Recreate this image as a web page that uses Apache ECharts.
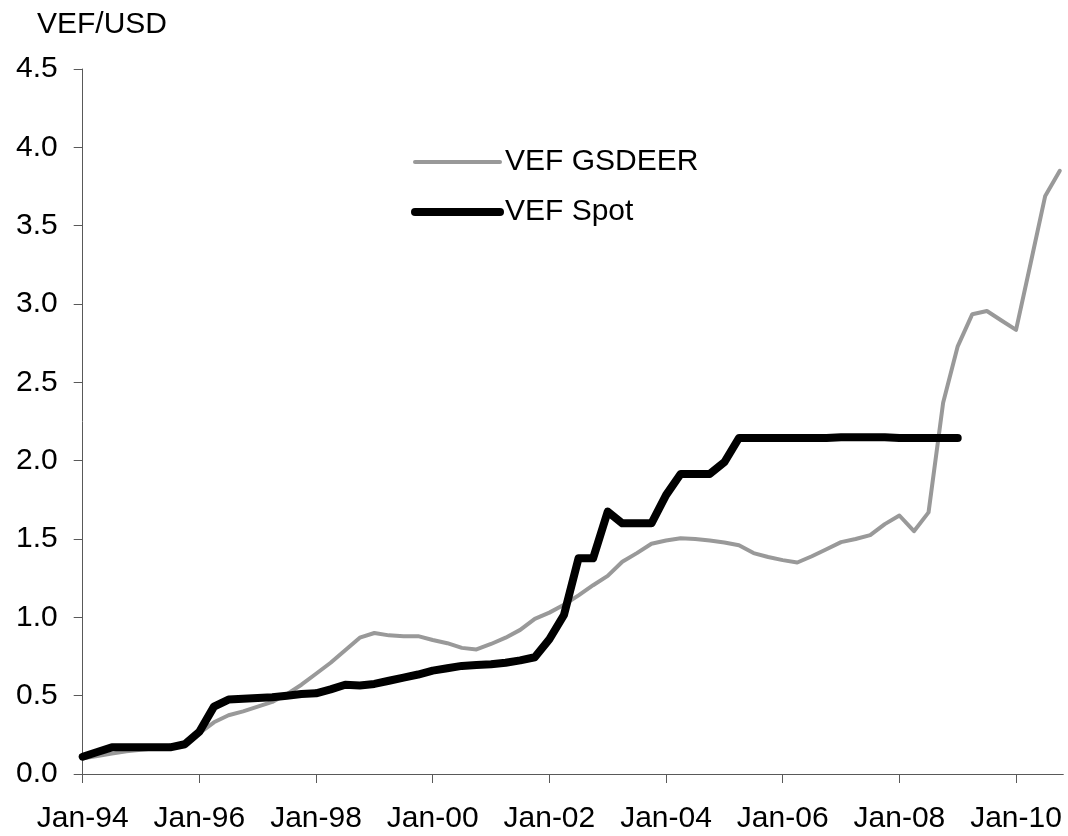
<!DOCTYPE html>
<html>
<head>
<meta charset="utf-8">
<title>VEF/USD</title>
<script src="https://cdn.jsdelivr.net/npm/echarts@6/dist/echarts.min.js"></script>
<style>
  html, body { margin: 0; padding: 0; background: #fff; }
  #chart { width: 1068px; height: 836px; }
</style>
</head>
<body>
<div id="chart"></div>
<script>
// quarterly observations
const quarters = [
  '1994-01', '1994-04', '1994-07', '1994-10',
  '1995-01', '1995-04', '1995-07', '1995-10',
  '1996-01', '1996-04', '1996-07', '1996-10',
  '1997-01', '1997-04', '1997-07', '1997-10',
  '1998-01', '1998-04', '1998-07', '1998-10',
  '1999-01', '1999-04', '1999-07', '1999-10',
  '2000-01', '2000-04', '2000-07', '2000-10',
  '2001-01', '2001-04', '2001-07', '2001-10',
  '2002-01', '2002-04', '2002-07', '2002-10',
  '2003-01', '2003-04', '2003-07', '2003-10',
  '2004-01', '2004-04', '2004-07', '2004-10',
  '2005-01', '2005-04', '2005-07', '2005-10',
  '2006-01', '2006-04', '2006-07', '2006-10',
  '2007-01', '2007-04', '2007-07', '2007-10',
  '2008-01', '2008-04', '2008-07', '2008-10',
  '2009-01', '2009-04', '2009-07', '2009-10',
  '2010-01', '2010-04', '2010-07', '2010-10'
]

const gsdeer = [
  0.10, 0.115, 0.13, 0.145,
  0.155, 0.165, 0.17, 0.19,
  0.26, 0.33, 0.375, 0.40,
  0.43, 0.46, 0.51, 0.57,
  0.64, 0.71, 0.79, 0.87,
  0.90, 0.885, 0.88, 0.88,
  0.855, 0.835, 0.805, 0.795,
  0.83, 0.87, 0.92, 0.99,
  1.03, 1.08, 1.14, 1.205,
  1.265, 1.355, 1.41, 1.47,
  1.49, 1.505, 1.50, 1.49,
  1.478, 1.46, 1.41, 1.385,
  1.365, 1.35, 1.39, 1.435,
  1.48, 1.50, 1.525, 1.595,
  1.65, 1.55, 1.67, 2.37,
  2.73, 2.935, 2.955, 2.895,
  2.835, 3.26, 3.69, 3.85
]

// spot stops at Jan-09
const spot = [
  0.11, 0.14, 0.17, 0.17,
  0.17, 0.17, 0.17, 0.19,
  0.27, 0.43, 0.475, 0.48,
  0.485, 0.49, 0.50, 0.51,
  0.515, 0.54, 0.57, 0.565,
  0.575, 0.595, 0.615, 0.635,
  0.66, 0.675, 0.69, 0.695,
  0.70, 0.71, 0.725, 0.745,
  0.86, 1.015, 1.377, 1.377,
  1.675, 1.60, 1.60, 1.60,
  1.78, 1.915, 1.915, 1.915,
  1.99, 2.145, 2.145, 2.145,
  2.145, 2.145, 2.145, 2.145,
  2.15, 2.15, 2.15, 2.15,
  2.145, 2.145, 2.145, 2.145,
  2.145
]

const xTicks = [1994, 1996, 1998, 2000, 2002, 2004, 2006, 2008, 2010]
const seriesNames = ['VEF GSDEER', 'VEF Spot']

const font = "'Liberation Sans', Arial, sans-serif"
const axisColor = '#595959'

// 'YYYY-MM' -> decimal year for the value axis
const toYear = (s) => {
  const [y, m] = s.split('-').map(Number)
  return y + (m - 1) / 12
}

const chart = echarts.init(document.getElementById('chart'))
chart.setOption({
  animation: false,
  backgroundColor: '#fff',
  textStyle: { fontFamily: font },
  title: {
    text: 'VEF/USD',
    left: 32,
    top: 5,
    textStyle: { fontSize: 30, fontWeight: 'normal', color: '#000', fontFamily: font }
  },
  legend: {
    orient: 'vertical',
    left: 406,
    top: 142,
    itemWidth: 85,
    itemHeight: 30,
    itemGap: 20,
    textStyle: { fontSize: 30, color: '#000', fontFamily: font },
    data: [
      { name: seriesNames[0], lineStyle: { width: 4, cap: 'round' }, itemStyle: { opacity: 0 } },
      { name: seriesNames[1], lineStyle: { width: 8, cap: 'round' }, itemStyle: { opacity: 0 } }
    ]
  },
  grid: {
    left: 82.7,
    right: 4.7,
    top: 69,
    bottom: 62,
    outerBoundsMode: 'none'
  },
  xAxis: {
    type: 'value',
    min: 1994,
    max: 2010.81,
    splitLine: { show: false },
    axisLine: { lineStyle: { color: axisColor, width: 1 } },
    axisTick: { show: true, length: 9, lineStyle: { color: axisColor }, customValues: xTicks },
    axisLabel: {
      customValues: xTicks,
      margin: 30,
      fontSize: 30,
      color: '#000',
      fontFamily: font,
      formatter: function(v) {
        return 'Jan-' + String(Math.round(v)).slice(2)
      }
    }
  },
  yAxis: {
    type: 'value',
    min: 0,
    max: 4.5,
    interval: 0.5,
    splitLine: { show: false },
    axisLine: { show: true, lineStyle: { color: axisColor, width: 1 } },
    axisTick: { show: true, length: 9, lineStyle: { color: axisColor } },
    axisLabel: {
      margin: 25,
      fontSize: 30,
      color: '#000',
      fontFamily: font,
      formatter: v => v.toFixed(1)
    }
  },
  series: [
    {
      name: seriesNames[0],
      type: 'line',
      symbol: 'none',
      color: '#999999',
      lineStyle: { width: 4, color: '#999999', join: 'round', cap: 'round' },
      data: quarters.map((d, i) => [toYear(d), gsdeer[i]])
    },
    {
      name: seriesNames[1],
      type: 'line',
      symbol: 'none',
      color: '#000',
      lineStyle: { width: 8, color: '#000', join: 'round', cap: 'round' },
      data: quarters.slice(0, spot.length).map((d, i) => [toYear(d), spot[i]])
    }
  ]
})
</script>
</body>
</html>
